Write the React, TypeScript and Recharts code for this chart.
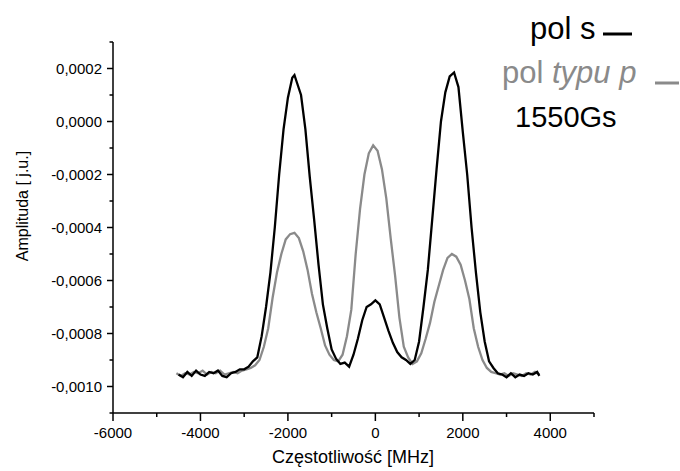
import { LineChart, Line, XAxis, YAxis } from 'recharts';

// pol s (black)
const sFreq = [
  -4500, -4400, -4300, -4200, -4100, -4000, -3900, -3800, -3700, -3600, -3500, -3400, -3300, -3200,
  -3100, -3000, -2900, -2800, -2700, -2600, -2500, -2400, -2300, -2200, -2100, -2000, -1900, -1850,
  -1800, -1700, -1600, -1500, -1400, -1300, -1200, -1100, -1000, -900, -800, -700, -600, -500, -400,
  -300, -200, -100, 0, 100, 200, 300, 400, 500, 600, 700, 800, 900, 1000, 1100, 1200, 1300, 1400,
  1500, 1600, 1700, 1800, 1900, 2000, 2100, 2200, 2300, 2400, 2500, 2600, 2700, 2800, 2900, 3000,
  3100, 3200, 3300, 3400, 3500, 3600, 3700, 3750,
];
const sAmp = [
  -0.000955, -0.000965, -0.000945, -0.00096, -0.00094, -0.000955, -0.00096, -0.000945, -0.00095,
  -0.00094, -0.00096, -0.000965, -0.00095, -0.000945, -0.000935, -0.000935, -0.000925, -0.000905,
  -0.00089, -0.00081, -0.0007, -0.00057, -0.0004, -0.0002, -0.00003, 0.00009, 0.000165, 0.000175,
  0.00015, 0.0001, -0.00003, -0.00021, -0.00037, -0.00054, -0.00069, -0.00078, -0.00086, -0.000895,
  -0.000915, -0.00091, -0.000925, -0.00088, -0.00082, -0.00075, -0.0007, -0.00069, -0.000675,
  -0.00069, -0.00074, -0.00079, -0.000835, -0.00087, -0.00089, -0.0009, -0.000915, -0.0009,
  -0.00083, -0.0007, -0.00056, -0.00037, -0.00018, 0.0, 0.00011, 0.00017, 0.000185, 0.00013,
  -0.00004, -0.0002, -0.0004, -0.00057, -0.00072, -0.00083, -0.000905, -0.00093, -0.00095,
  -0.000955, -0.000965, -0.00095, -0.000965, -0.000955, -0.00096, -0.00095, -0.000955, -0.000945,
  -0.00096,
];

// pol typu p (grey)
const pFreq = [
  -4550, -4450, -4350, -4250, -4150, -4050, -3950, -3850, -3750, -3650, -3550, -3450, -3350, -3250,
  -3150, -3050, -2950, -2850, -2750, -2650, -2550, -2450, -2350, -2250, -2150, -2050, -1950, -1850,
  -1750, -1650, -1550, -1450, -1350, -1250, -1150, -1050, -950, -850, -750, -650, -550, -450, -350,
  -250, -150, -50, 50, 150, 250, 350, 450, 550, 650, 750, 850, 950, 1050, 1150, 1250, 1350, 1450,
  1550, 1650, 1750, 1850, 1950, 2050, 2150, 2250, 2350, 2450, 2550, 2650, 2750, 2850, 2950, 3050,
  3150, 3250, 3350, 3450, 3550, 3650, 3750,
];
const pAmp = [
  -0.00095, -0.00096, -0.00095, -0.000955, -0.000945, -0.00095, -0.00094, -0.000955, -0.000945,
  -0.00095, -0.00094, -0.000955, -0.00095, -0.000945, -0.00095, -0.00094, -0.000935, -0.00093,
  -0.00092, -0.0009, -0.00085, -0.00078, -0.000665, -0.00057, -0.0005, -0.000445, -0.000425,
  -0.00042, -0.00044, -0.00049, -0.00056, -0.00065, -0.00072, -0.00078, -0.000845, -0.00088,
  -0.0009, -0.000905, -0.00088, -0.00081, -0.00071, -0.0005, -0.00033, -0.0002, -0.00012,
  -0.00009, -0.00011, -0.00018, -0.00029, -0.00044, -0.00058, -0.00074, -0.00085, -0.00089,
  -0.000915, -0.000905, -0.000875, -0.00082, -0.00076, -0.00068, -0.00062, -0.00056, -0.000515,
  -0.0005, -0.00051, -0.00054, -0.0006, -0.00067, -0.00078, -0.00085, -0.0009, -0.00093,
  -0.000945, -0.00095, -0.000955, -0.00095, -0.00096, -0.00095, -0.000955, -0.00096, -0.00095,
  -0.000955, -0.000945, -0.000955,
];

const xTicks = [-6000, -5000, -4000, -3000, -2000, -1000, 0, 1000, 2000, 3000, 4000, 5000];
const yTicks = [
  -0.0011, -0.001, -0.0009, -0.0008, -0.0007, -0.0006, -0.0005, -0.0004, -0.0003, -0.0002, -0.0001,
  0, 0.0001, 0.0002, 0.0003,
];

const sData = sFreq.map((x, i) => ({ x, y: sAmp[i] }));
const pData = pFreq.map((x, i) => ({ x, y: pAmp[i] }));

const FONT = '"Liberation Sans", Arial, sans-serif';
const GREY = '#8a8a8a';

const XTick = (props: any) => {
  const { x, y, payload } = props;
  const major = Math.round(payload.value) % 2000 === 0;
  return (
    <g>
      <line x1={x} x2={x} y1={y} y2={y + (major ? 8 : 4)} stroke="#000" strokeWidth={1.5} />
      {major && (
        <text x={x} y={y + 24.5} textAnchor="middle" fontSize={15} fontFamily={FONT} fill="#000">
          {payload.value}
        </text>
      )}
    </g>
  );
};

const YTick = (props: any) => {
  const { x, y, payload } = props;
  const n = Math.round(payload.value * 10000);
  const major = n % 2 === 0;
  return (
    <g>
      <line x1={x} x2={x - (major ? 6 : 3.5)} y1={y} y2={y} stroke="#000" strokeWidth={1.5} />
      {major && (
        <text x={x - 11} y={y + 5} textAnchor="end" fontSize={15} fontFamily={FONT} fill="#000">
          {(n / 10000).toFixed(4).replace('.', ',')}
        </text>
      )}
    </g>
  );
};

export default function App() {
  return (
    <div style={{ position: 'absolute', left: 0, top: 0, width: 680, height: 471, background: '#fff' }}>
      <LineChart width={680} height={471} margin={{ top: 42, right: 86, left: 0, bottom: 0 }}>
        <XAxis
          dataKey="x"
          type="number"
          domain={[-6000, 5000]}
          ticks={xTicks}
          interval={0}
          height={58}
          tickSize={0}
          tickMargin={0}
          tickLine={false}
          axisLine={{ stroke: '#000', strokeWidth: 1.5 }}
          tick={<XTick />}
          allowDataOverflow
        />
        <YAxis
          dataKey="y"
          type="number"
          domain={[-0.0011, 0.0003]}
          ticks={yTicks}
          interval={0}
          width={113}
          tickSize={0}
          tickMargin={0}
          tickLine={false}
          axisLine={{ stroke: '#000', strokeWidth: 1.5 }}
          tick={<YTick />}
          allowDataOverflow
        />
        <Line
          data={pData}
          dataKey="y"
          type="linear"
          stroke={GREY}
          strokeWidth={2.3}
          dot={false}
          isAnimationActive={false}
        />
        <Line
          data={sData}
          dataKey="y"
          type="linear"
          stroke="#000"
          strokeWidth={2.3}
          dot={false}
          isAnimationActive={false}
        />
      </LineChart>
      <svg
        width={680}
        height={471}
        style={{ position: 'absolute', left: 0, top: 0, pointerEvents: 'none' }}
        fontFamily={FONT}
      >
        <text x={530} y={38.5} fontSize={31} fill="#000">pol s</text>
        <line x1={603} x2={632} y1={34} y2={34} stroke="#000" strokeWidth={3} />
        <text x={502} y={83} fontSize={31} fill={GREY}>
          pol <tspan fontStyle="italic">typu p</tspan>
        </text>
        <line x1={655} x2={679} y1={83} y2={83} stroke={GREY} strokeWidth={3} />
        <text x={515} y={127} fontSize={29} fill="#000">1550Gs</text>
        <text x={353} y={463} textAnchor="middle" fontSize={18} fill="#000">Częstotliwość [MHz]</text>
        <text
          x={28}
          y={206}
          textAnchor="middle"
          fontSize={16}
          fill="#000"
          transform="rotate(-90 28 206)"
        >
          Amplituda [ j.u.]
        </text>
      </svg>
    </div>
  );
}
